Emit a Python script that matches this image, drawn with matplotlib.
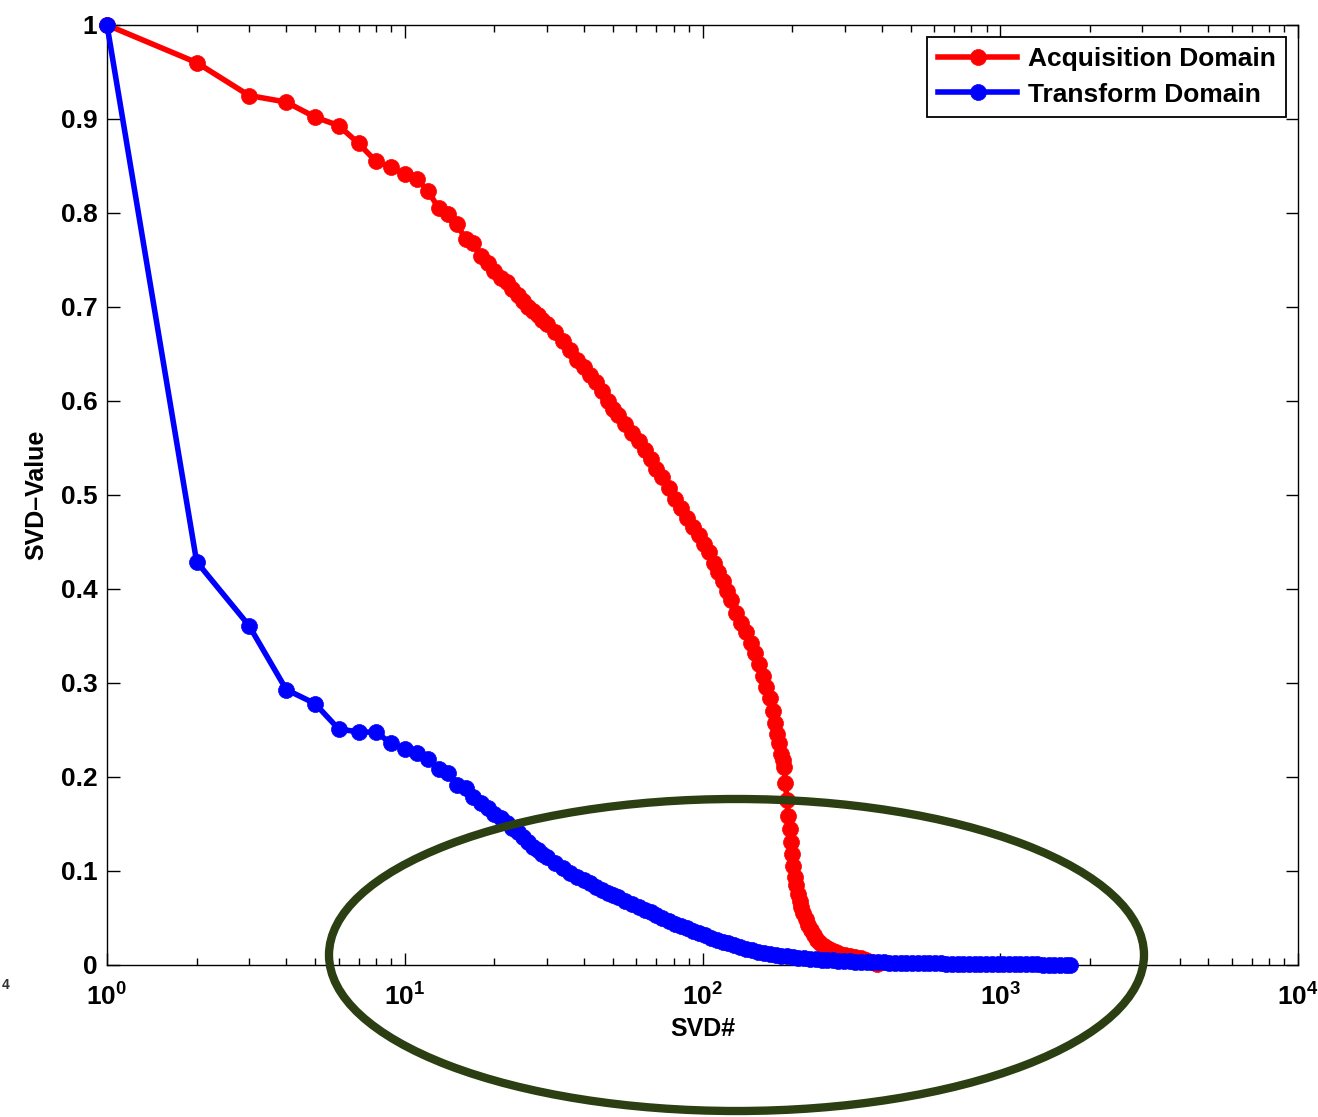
import math
import matplotlib
matplotlib.use("Agg")
import matplotlib.pyplot as plt
from matplotlib.patches import Ellipse
from matplotlib.ticker import LogLocator, FixedLocator, FuncFormatter, NullFormatter

plt.rcParams['font.family'] = ['Liberation Sans', 'DejaVu Sans']
plt.rcParams['font.weight'] = 'bold'
plt.rcParams['mathtext.fontset'] = 'custom'
plt.rcParams['mathtext.rm'] = 'Liberation Sans:bold'
plt.rcParams['mathtext.bf'] = 'Liberation Sans:bold'
plt.rcParams['mathtext.it'] = 'Liberation Sans:bold'

# ---------------- data ----------------
acq_idx = [1, 2, 3, 4, 5, 6, 7, 8, 9, 10, 11, 12, 13, 14, 15, 16, 17, 18, 19, 20,
           21, 22, 23, 24, 25, 26, 27, 28, 29, 30, 32, 34, 36, 38, 40, 42, 44, 46, 48, 50,
           52, 55, 58, 61, 64, 67, 70, 73, 77, 81, 85, 89, 93, 97, 101, 105, 109, 113, 117, 121,
           125, 130, 135, 140, 145, 150, 155, 160, 164, 168, 172, 175, 178, 181, 184, 186, 188, 190, 192, 194,
           196, 198, 200, 202, 204, 206, 209, 212, 215, 218, 222, 226, 231, 236, 242, 248, 255, 262, 270, 280,
           290, 300, 312, 325, 340, 355, 370, 385]
acq_val = [1.000, 0.960, 0.925, 0.918, 0.902, 0.893, 0.874, 0.855, 0.849, 0.841, 0.836, 0.823, 0.805, 0.799, 0.788, 0.772, 0.768, 0.754, 0.747, 0.738,
           0.731, 0.727, 0.719, 0.713, 0.706, 0.700, 0.696, 0.691, 0.686, 0.682, 0.673, 0.664, 0.654, 0.644, 0.636, 0.628, 0.620, 0.611, 0.600, 0.592,
           0.585, 0.576, 0.566, 0.557, 0.548, 0.538, 0.528, 0.519, 0.507, 0.496, 0.486, 0.476, 0.466, 0.457, 0.448, 0.439, 0.428, 0.418, 0.408, 0.398,
           0.388, 0.374, 0.364, 0.354, 0.343, 0.332, 0.320, 0.307, 0.296, 0.284, 0.270, 0.257, 0.246, 0.236, 0.225, 0.218, 0.211, 0.194, 0.176, 0.158,
           0.145, 0.131, 0.118, 0.105, 0.094, 0.085, 0.076, 0.068, 0.062, 0.055, 0.049, 0.043, 0.037, 0.032, 0.027, 0.023, 0.020, 0.018, 0.016, 0.014,
           0.012, 0.011, 0.010, 0.009, 0.007, 0.005, 0.003, 0.001]

tr_idx = [1, 2, 3, 4, 5, 6, 7, 8, 9, 10, 11, 12, 13, 14, 15, 16, 17, 18, 19, 20,
          21, 22, 23, 24, 25, 26, 27, 28, 29, 30, 32, 34, 36, 38, 40, 42, 44, 46, 48, 50,
          52, 55, 58, 61, 64, 67, 70, 73, 77, 81, 85, 89, 93, 97, 102, 107, 112, 117, 122, 128,
          134, 140, 147, 154, 161, 168, 176, 184, 192, 201, 210, 220, 230, 240, 251, 262, 274, 286, 299, 312,
          326, 341, 356, 372, 389, 406, 424, 443, 463, 484, 506, 529, 553, 578, 604, 631, 659, 689, 720, 752,
          786, 821, 858, 897, 937, 979, 1023, 1069, 1117, 1167, 1220, 1275, 1332, 1392, 1455, 1520, 1588, 1660, 1715]
tr_val = [1.000, 0.429, 0.361, 0.293, 0.278, 0.251, 0.248, 0.2476, 0.236, 0.230, 0.226, 0.219, 0.209, 0.2046, 0.1915, 0.188, 0.179, 0.172, 0.167, 0.161,
          0.156, 0.151, 0.146, 0.141, 0.136, 0.131, 0.126, 0.122, 0.118, 0.115, 0.108, 0.103, 0.098, 0.094, 0.090, 0.087, 0.083, 0.080, 0.077, 0.074,
          0.072, 0.068, 0.065, 0.062, 0.059, 0.056, 0.053, 0.050, 0.047, 0.044, 0.041, 0.039, 0.036, 0.034, 0.032, 0.029, 0.027, 0.025, 0.023, 0.021,
          0.019, 0.017, 0.016, 0.014, 0.013, 0.012, 0.011, 0.010, 0.0092, 0.0085, 0.0078, 0.0072, 0.0066, 0.0061, 0.0057, 0.0053, 0.0049, 0.0046, 0.0043, 0.0040,
          0.0037, 0.0035, 0.0033, 0.0031, 0.0029, 0.0027, 0.0026, 0.0024, 0.0023, 0.0022, 0.0021, 0.0020, 0.0019, 0.0018, 0.0017, 0.0016, 0.0015, 0.0014, 0.0013, 0.0013,
          0.0012, 0.0011, 0.0011, 0.0010, 0.0010, 0.0009, 0.0009, 0.0008, 0.0008, 0.0007, 0.0007, 0.0006, 0.0006, 0.0005, 0.0005, 0.0004, 0.0003, 0.0002, 0.0001]

series_labels = ['Acquisition Domain', 'Transform Domain']
x_label = 'SVD#'
y_label = 'SVD\u2013Value'
y_ticks = [0, 0.1, 0.2, 0.3, 0.4, 0.5, 0.6, 0.7, 0.8, 0.9, 1]
y_ticklabels = ['0', '0.1', '0.2', '0.3', '0.4', '0.5', '0.6', '0.7', '0.8', '0.9', '1']
x_ticks = [1, 10, 100, 1000, 10000]

# ---------------- figure ----------------
W, H = 1318, 1117
fig = plt.figure(figsize=(W / 100, H / 100), dpi=100)
ax = fig.add_axes([107 / W, 1 - 965 / H, (1298 - 107) / W, (965 - 25) / H])

ax.plot(acq_idx, acq_val, '-o', color='#ff0000', mfc='#ff0000', mec='#ff0000',
        lw=4, ms=11.5, mew=0.5, label=series_labels[0], clip_on=False, zorder=3)
ax.plot(tr_idx, tr_val, '-o', color='#0000ff', mfc='#0000ff', mec='#0000ff',
        lw=4, ms=11.5, mew=0.5, label=series_labels[1], clip_on=False, zorder=4)

ax.set_xscale('log')
ax.set_xlim(1, 1e4)
ax.set_ylim(0, 1)

ax.xaxis.set_major_locator(FixedLocator(x_ticks))
ax.xaxis.set_major_formatter(FuncFormatter(
    lambda v, p: r'$\mathbf{10^{%d}}$' % round(math.log10(v))))
ax.xaxis.set_minor_locator(LogLocator(base=10, subs=range(2, 10), numticks=20))
ax.xaxis.set_minor_formatter(NullFormatter())
ax.set_yticks(y_ticks)
ax.set_yticklabels(y_ticklabels)

ax.tick_params(axis='both', which='both', direction='in', top=True, right=True,
               width=1.0, color='black')
ax.tick_params(axis='both', which='major', length=9)
ax.tick_params(axis='x', which='minor', length=5)
ax.tick_params(axis='x', which='major', labelsize=19, pad=13)
ax.tick_params(axis='y', which='major', labelsize=19, pad=7)
for lab in ax.get_yticklabels():
    lab.set_fontweight('bold')
for sp in ax.spines.values():
    sp.set_linewidth(1.0)

ax.set_xlabel(x_label, fontsize=18, fontweight='bold', labelpad=5)
ax.set_ylabel(y_label, fontsize=18, fontweight='bold', labelpad=9)

leg = ax.legend(loc='upper right', frameon=True, fancybox=False,
                edgecolor='black', framealpha=1, numpoints=1, handlelength=3.0,
                borderaxespad=0.45, handletextpad=0.4, labelspacing=0.42,
                borderpad=0.4, prop={'weight': 'bold', 'size': 19})
leg.get_frame().set_linewidth(1.3)

ell = Ellipse((736.5 / W, 1 - 955 / H), 815 / W, 312 / H, transform=fig.transFigure,
              fill=False, edgecolor='#2b3f12', lw=6, zorder=10)
fig.add_artist(ell)

fig.text(0.004, 1 - 985 / H, '4', fontsize=10, ha='center', va='center', color='#333333')

fig.savefig('out.png', dpi=100)
